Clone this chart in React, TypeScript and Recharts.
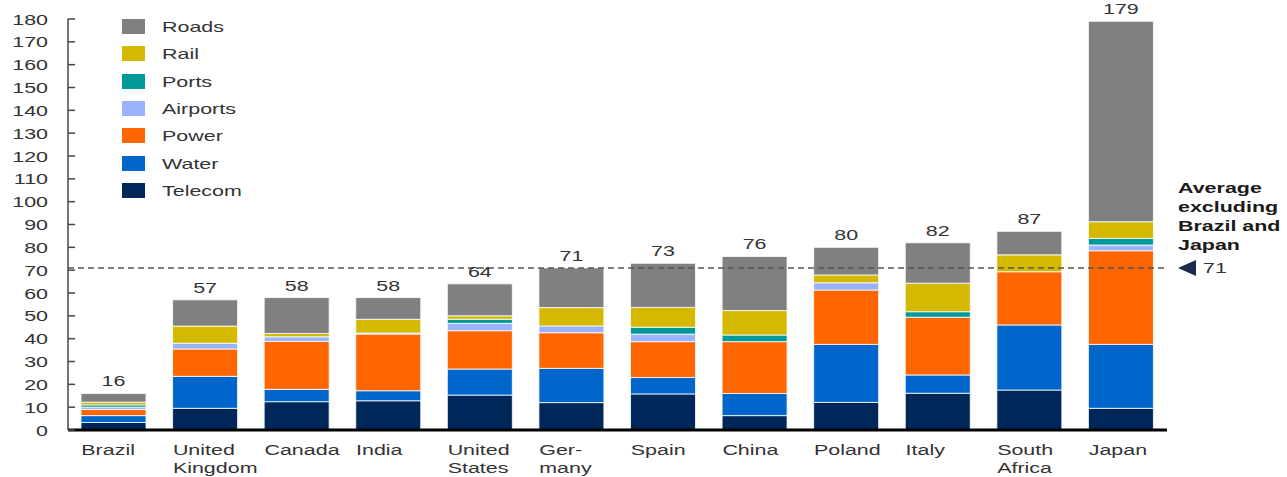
import { Bar, BarChart, LabelList, ReferenceLine, XAxis, YAxis } from "recharts";

const countries = [
  "Brazil",
  "United\nKingdom",
  "Canada",
  "India",
  "United\nStates",
  "Ger-\nmany",
  "Spain",
  "China",
  "Poland",
  "Italy",
  "South\nAfrica",
  "Japan",
];
const telecom = [3.3, 9.5, 12.4, 12.8, 15.3, 12, 15.8, 6.3, 12.1, 16.1, 17.5, 9.5];
const water = [3, 14, 5.4, 4.4, 11.4, 15, 7.2, 9.7, 25.4, 8, 28.5, 28];
const power = [2.7, 12, 21, 24.8, 16.8, 15.6, 15.7, 22.7, 23.8, 25.3, 23.3, 41];
const airports = [1, 2.5, 2, 0.5, 3.2, 3, 3.3, 0, 3.2, 0, 0, 2.5];
const ports = [1, 0, 0, 0, 1.8, 0, 3, 2.9, 0, 2.4, 0, 2.9];
const rail = [1.2, 7.5, 1.5, 6, 1.5, 8, 8.7, 10.7, 3.4, 12.5, 7.4, 7.3];
const roads = [3.8, 11.5, 15.7, 9.5, 14, 17.4, 19.3, 23.7, 12.1, 17.7, 10.3, 87.8];
const totals = [16, 57, 58, 58, 64, 71, 73, 76, 80, 82, 87, 179];
const yTicks = [0, 10, 20, 30, 40, 50, 60, 70, 80, 90, 100, 110, 120, 130, 140, 150, 160, 170, 180];
const average = 71;
const averageNote = ["Average", "excluding", "Brazil and", "Japan"];

const series = [
  { key: "telecom", name: "Telecom", values: telecom, color: "#00275a" },
  { key: "water", name: "Water", values: water, color: "#0066cc" },
  { key: "power", name: "Power", values: power, color: "#ff6600" },
  { key: "airports", name: "Airports", values: airports, color: "#99b3ff" },
  { key: "ports", name: "Ports", values: ports, color: "#009999" },
  { key: "rail", name: "Rail", values: rail, color: "#d4b900" },
  { key: "roads", name: "Roads", values: roads, color: "#808080" },
];

const data = countries.map((country, i) => {
  const row: Record<string, string | number> = { country };
  series.forEach((s) => (row[s.key] = s.values[i]));
  return row;
});

const FONT = "'Liberation Sans', Arial, sans-serif";
const SX = 1.43;
const BAR = 65;

function YTick(props: any) {
  const { x, y, payload } = props;
  const axisX = x + 20;
  return (
    <g>
      <line x1={axisX} x2={axisX + 7} y1={y} y2={y} stroke="#444" strokeWidth={1.5} />
      <text
        transform={`translate(${x},${y + 5.5}) scale(${SX},1)`}
        textAnchor="end"
        fontSize={15}
        fontFamily={FONT}
        fill="#333"
      >
        {payload.value}
      </text>
    </g>
  );
}

function XTick(props: any) {
  const { x, y, payload } = props;
  const lines = String(payload.value).split("\n");
  return (
    <g transform={`translate(${x - BAR / 2},${y})`}>
      {lines.map((line, i) => (
        <text
          key={i}
          transform={`translate(0,${25 + i * 18}) scale(${SX},1)`}
          fontSize={15}
          fontFamily={FONT}
          fill="#333"
        >
          {line}
        </text>
      ))}
    </g>
  );
}

function TotalLabel(props: any) {
  const { x, y, width, index } = props;
  return (
    <text
      transform={`translate(${x + width / 2},${y - 7}) scale(${SX},1)`}
      textAnchor="middle"
      fontSize={15}
      fontFamily={FONT}
      fill="#333"
    >
      {totals[index]}
    </text>
  );
}

function AverageLabel(props: any) {
  const { viewBox } = props;
  const rx = viewBox.x + viewBox.width;
  const ly = viewBox.y;
  return (
    <g>
      <polygon
        points={`${rx + 11},${ly} ${rx + 29},${ly - 8} ${rx + 29},${ly + 8}`}
        fill="#1b2a4e"
      />
      <text
        transform={`translate(${rx + 36},${ly + 5.5}) scale(${SX},1)`}
        fontSize={15}
        fontFamily={FONT}
        fill="#333"
      >
        {average}
      </text>
      {averageNote.map((line, i) => (
        <text
          key={i}
          transform={`translate(${rx + 11},${ly - 75 + i * 19}) scale(${SX},1)`}
          fontSize={15}
          fontWeight="bold"
          fontFamily={FONT}
          fill="#1a1a1a"
        >
          {line}
        </text>
      ))}
    </g>
  );
}

function LegendBox() {
  return (
    <div style={{ position: "absolute", left: 122, top: 13, fontFamily: FONT }}>
      {[...series].reverse().map((s) => (
        <div key={s.key} style={{ display: "flex", alignItems: "center", height: 27.3 }}>
          <div style={{ width: 23, height: 15, background: s.color }} />
          <span
            style={{
              marginLeft: 17,
              fontSize: 15,
              color: "#333",
              display: "inline-block",
              transform: `scaleX(${SX})`,
              transformOrigin: "left center",
            }}
          >
            {s.name}
          </span>
        </div>
      ))}
    </div>
  );
}

export default function App() {
  return (
    <div style={{ position: "absolute", left: 0, top: 0, width: 1287, height: 477, background: "#fff" }}>
      <BarChart
        width={1287}
        height={477}
        data={data}
        margin={{ top: 19, right: 120, bottom: 0, left: 0 }}
      >
        <XAxis
          dataKey="country"
          interval={0}
          tickLine={false}
          tickSize={0}
          tickMargin={0}
          height={47}
          axisLine={{ stroke: "#000", strokeWidth: 3 }}
          tick={<XTick />}
        />
        <YAxis
          type="number"
          domain={[0, 180]}
          ticks={yTicks}
          interval={0}
          width={68}
          tickLine={false}
          tickSize={0}
          tickMargin={20}
          axisLine={{ stroke: "#444", strokeWidth: 1.5 }}
          tick={<YTick />}
        />
        {series.map((s) => (
          <Bar
            key={s.key}
            dataKey={s.key}
            name={s.name}
            stackId="a"
            fill={s.color}
            stroke="#ffffff"
            strokeOpacity={0.8}
            strokeWidth={1}
            barSize={BAR}
            isAnimationActive={false}
          >
            {s.key === "roads" && <LabelList dataKey="roads" content={<TotalLabel />} />}
          </Bar>
        ))}
        <ReferenceLine
          y={average}
          stroke="#555"
          strokeWidth={1.5}
          strokeDasharray="6 4"
          label={<AverageLabel />}
        />
      </BarChart>
      <LegendBox />
    </div>
  );
}
